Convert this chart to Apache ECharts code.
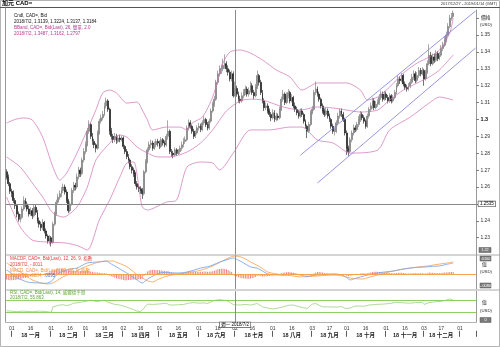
<!DOCTYPE html>
<html><head><meta charset="utf-8">
<script src="https://cdn.jsdelivr.net/npm/echarts/dist/echarts.min.js"></script>
<style>html,body{margin:0;padding:0;background:#fff}#c{width:500px;height:347px}</style>
</head><body><div id="c"></div>
<script>
// ---- categories: trading days (weekdays) of the axis range ----
const rangeStart = [2017, 11, 27], rangeEnd = [2019, 0, 14];
const categories = [];
(function () {
  let t = Date.UTC(rangeStart[0], rangeStart[1], rangeStart[2]);
  const e = Date.UTC(rangeEnd[0], rangeEnd[1], rangeEnd[2]);
  while (t <= e) { const d = new Date(t); const w = d.getUTCDay(); if (w !== 0 && w !== 6) categories.push(d.toISOString().slice(0, 10)); t += 86400000; }
})();

// ---- tick labels ----
const dayTickDates = ['2018-01-01','2018-01-16','2018-02-01','2018-02-16','2018-03-01','2018-03-16','2018-04-02','2018-04-16','2018-05-01','2018-05-16','2018-06-01','2018-06-18','2018-07-02','2018-07-16','2018-08-01','2018-08-16','2018-09-03','2018-09-17','2018-10-01','2018-10-16','2018-11-01','2018-11-16','2018-12-03','2018-12-17','2019-01-01'];
const monthStarts = ['2018-01-01','2018-02-01','2018-03-01','2018-04-02','2018-05-01','2018-06-01','2018-07-02','2018-08-01','2018-09-03','2018-10-01','2018-11-01','2018-12-03','2019-01-01'];
const monthLabels = ['18 一月','18 二月','18 三月','18 四月','18 五月','18 六月','18 七月','18 八月','18 九月','18 十月','18 十一月','18 十二月'];

// ---- candles: [open, close, low, high] ----
const ohlc = [
[1.2690,1.2660,1.2645,1.2705],[1.2660,1.2620,1.2605,1.2675],[1.2620,1.2575,1.2560,1.2630],[1.2575,1.2565,1.2540,1.2590],[1.2565,1.2520,1.2505,1.2580],
[1.2520,1.2490,1.2470,1.2535],[1.2490,1.2440,1.2420,1.2500],[1.2440,1.2410,1.2395,1.2455],[1.2410,1.2420,1.2390,1.2440],[1.2420,1.2470,1.2410,1.2485],
[1.2470,1.2520,1.2460,1.2545],[1.2520,1.2500,1.2480,1.2535],[1.2500,1.2470,1.2455,1.2515],[1.2470,1.2440,1.2425,1.2490],[1.2440,1.2460,1.2430,1.2480],
[1.2460,1.2430,1.2410,1.2475],[1.2430,1.2480,1.2420,1.2500],[1.2480,1.2450,1.2435,1.2495],[1.2450,1.2400,1.2385,1.2465],[1.2400,1.2380,1.2360,1.2420],
[1.2380,1.2360,1.2340,1.2395],[1.2360,1.2390,1.2345,1.2410],[1.2390,1.2340,1.2325,1.2400],[1.2340,1.2310,1.2295,1.2355],[1.2310,1.2280,1.2265,1.2320],
[1.2280,1.2300,1.2260,1.2315],[1.2300,1.2270,1.2248,1.2310],[1.2270,1.2380,1.2265,1.2395],[1.2380,1.2440,1.2370,1.2455],[1.2440,1.2510,1.2430,1.2525],
[1.2510,1.2540,1.2495,1.2560],[1.2540,1.2560,1.2525,1.2580],[1.2560,1.2580,1.2540,1.2600],[1.2580,1.2600,1.2565,1.2620],[1.2600,1.2570,1.2555,1.2615],
[1.2570,1.2520,1.2505,1.2585],[1.2520,1.2460,1.2445,1.2530],[1.2460,1.2500,1.2450,1.2515],[1.2500,1.2580,1.2490,1.2595],[1.2580,1.2610,1.2565,1.2630],
[1.2610,1.2600,1.2580,1.2625],[1.2600,1.2660,1.2590,1.2680],[1.2660,1.2700,1.2645,1.2720],[1.2700,1.2680,1.2660,1.2715],[1.2680,1.2760,1.2670,1.2775],
[1.2760,1.2810,1.2745,1.2830],[1.2810,1.2850,1.2795,1.2870],[1.2850,1.2930,1.2840,1.2950],[1.2930,1.2970,1.2915,1.2995],[1.2970,1.2900,1.2885,1.2980],
[1.2900,1.2870,1.2850,1.2920],[1.2870,1.2850,1.2830,1.2885],[1.2850,1.2830,1.2805,1.2860],[1.2830,1.2920,1.2820,1.2935],[1.2920,1.2990,1.2910,1.3005],
[1.2990,1.3010,1.2975,1.3030],[1.3010,1.3030,1.2995,1.3050],[1.3030,1.3080,1.3020,1.3100],[1.3080,1.3110,1.3065,1.3130],[1.3110,1.3060,1.3045,1.3120],
[1.3060,1.2930,1.2910,1.3070],[1.2930,1.2900,1.2880,1.2950],[1.2900,1.2880,1.2860,1.2915],[1.2880,1.2900,1.2865,1.2920],[1.2900,1.2870,1.2855,1.2915],
[1.2870,1.2890,1.2860,1.2905],[1.2890,1.2880,1.2865,1.2910],[1.2880,1.2890,1.2870,1.2905],[1.2890,1.2840,1.2825,1.2900],[1.2840,1.2810,1.2795,1.2850],
[1.2810,1.2780,1.2765,1.2825],[1.2780,1.2760,1.2740,1.2795],[1.2760,1.2720,1.2705,1.2770],[1.2720,1.2700,1.2680,1.2735],[1.2700,1.2680,1.2660,1.2715],
[1.2680,1.2620,1.2605,1.2690],[1.2620,1.2600,1.2585,1.2635],[1.2600,1.2590,1.2570,1.2615],[1.2590,1.2580,1.2560,1.2605],[1.2580,1.2560,1.2530,1.2595],
[1.2560,1.2690,1.2550,1.2700],[1.2690,1.2750,1.2680,1.2765],[1.2750,1.2820,1.2740,1.2835],[1.2820,1.2850,1.2805,1.2870],[1.2850,1.2860,1.2830,1.2880],
[1.2860,1.2830,1.2815,1.2875],[1.2830,1.2850,1.2820,1.2870],[1.2850,1.2870,1.2835,1.2885],[1.2870,1.2860,1.2840,1.2885],[1.2860,1.2840,1.2825,1.2875],
[1.2840,1.2880,1.2830,1.2895],[1.2880,1.2860,1.2845,1.2890],[1.2860,1.2850,1.2835,1.2875],[1.2850,1.2900,1.2840,1.2915],[1.2900,1.2930,1.2880,1.2995],
[1.2930,1.2810,1.2795,1.2940],[1.2810,1.2800,1.2780,1.2825],[1.2800,1.2790,1.2770,1.2815],[1.2790,1.2820,1.2780,1.2835],[1.2820,1.2800,1.2785,1.2830],
[1.2800,1.2810,1.2790,1.2825],[1.2810,1.2830,1.2795,1.2845],[1.2830,1.2850,1.2815,1.2870],[1.2850,1.2870,1.2835,1.2890],[1.2870,1.2880,1.2855,1.2900],
[1.2880,1.2950,1.2870,1.2965],[1.2950,1.2980,1.2935,1.3000],[1.2980,1.2960,1.2945,1.2995],[1.2960,1.2930,1.2915,1.2970],[1.2930,1.2900,1.2885,1.2945],
[1.2900,1.2920,1.2890,1.2935],[1.2920,1.2950,1.2910,1.2965],[1.2950,1.2960,1.2935,1.2980],[1.2960,1.2940,1.2925,1.2975],[1.2940,1.2980,1.2930,1.2995],
[1.2980,1.3000,1.2965,1.3020],[1.3000,1.2970,1.2955,1.3010],[1.2970,1.2950,1.2935,1.2985],[1.2950,1.2990,1.2940,1.3005],[1.2990,1.3050,1.2980,1.3065],
[1.3050,1.3090,1.3040,1.3105],[1.3090,1.3120,1.3075,1.3140],[1.3120,1.3220,1.3110,1.3235],[1.3220,1.3270,1.3205,1.3290],[1.3270,1.3300,1.3255,1.3320],
[1.3300,1.3300,1.3270,1.3325],[1.3300,1.3320,1.3285,1.3360],[1.3320,1.3330,1.3300,1.3385],[1.3330,1.3300,1.3280,1.3345],[1.3300,1.3280,1.3260,1.3320],
[1.3280,1.3240,1.3225,1.3295],[1.3240,1.3270,1.3225,1.3290],[1.3270,1.3140,1.3130,1.3285],[1.3139,1.3184,1.3137,1.3224],[1.3184,1.3150,1.3135,1.3200],
[1.3150,1.3120,1.3100,1.3165],[1.3120,1.3110,1.3095,1.3140],[1.3110,1.3140,1.3100,1.3160],[1.3140,1.3160,1.3125,1.3180],[1.3160,1.3180,1.3145,1.3200],
[1.3180,1.3150,1.3135,1.3195],[1.3150,1.3170,1.3135,1.3190],[1.3170,1.3200,1.3160,1.3225],[1.3200,1.3160,1.3145,1.3215],[1.3160,1.3140,1.3120,1.3175],
[1.3140,1.3190,1.3130,1.3210],[1.3190,1.3260,1.3180,1.3290],[1.3260,1.3220,1.3200,1.3270],[1.3220,1.3160,1.3145,1.3235],[1.3160,1.3110,1.3095,1.3175],
[1.3110,1.3070,1.3050,1.3125],[1.3070,1.3080,1.3055,1.3100],[1.3080,1.3050,1.3035,1.3095],[1.3050,1.3030,1.3015,1.3065],[1.3030,1.3010,1.2990,1.3045],
[1.3010,1.3040,1.3000,1.3060],[1.3040,1.3000,1.2985,1.3055],[1.3000,1.3020,1.2990,1.3040],[1.3020,1.3010,1.2995,1.3035],[1.3010,1.3060,1.3000,1.3075],
[1.3060,1.3120,1.3050,1.3135],[1.3120,1.3150,1.3105,1.3175],[1.3150,1.3100,1.3085,1.3160],[1.3100,1.3140,1.3090,1.3160],[1.3140,1.3160,1.3125,1.3180],
[1.3160,1.3110,1.3095,1.3170],[1.3110,1.3130,1.3100,1.3150],[1.3130,1.3080,1.3065,1.3140],[1.3080,1.3060,1.3045,1.3100],[1.3060,1.3040,1.3025,1.3075],
[1.3040,1.3020,1.3005,1.3055],[1.3020,1.3050,1.3010,1.3065],[1.3050,1.3030,1.3015,1.3065],[1.3030,1.2990,1.2975,1.3040],[1.2990,1.2960,1.2945,1.3000],
[1.2960,1.2930,1.2890,1.2970],[1.2930,1.2970,1.2920,1.2985],[1.2970,1.3040,1.2960,1.3055],[1.3040,1.3060,1.3030,1.3080],[1.3060,1.3160,1.3050,1.3175],
[1.3160,1.3180,1.3145,1.3225],[1.3180,1.3150,1.3135,1.3195],[1.3150,1.3120,1.3105,1.3165],[1.3120,1.3080,1.3065,1.3130],[1.3080,1.3050,1.3035,1.3095],
[1.3050,1.3030,1.3015,1.3065],[1.3030,1.3050,1.3020,1.3070],[1.3050,1.3020,1.3005,1.3065],[1.3020,1.3000,1.2985,1.3035],[1.3000,1.2960,1.2945,1.3010],
[1.2960,1.2930,1.2915,1.2975],[1.2930,1.2930,1.2905,1.2950],[1.2930,1.2980,1.2920,1.2995],[1.2980,1.3020,1.2965,1.3040],[1.3020,1.3050,1.3005,1.3065],
[1.3050,1.3030,1.3015,1.3065],[1.3030,1.3000,1.2985,1.3045],[1.3000,1.2920,1.2905,1.3010],[1.2920,1.2830,1.2790,1.2935],[1.2830,1.2810,1.2785,1.2845],
[1.2810,1.2880,1.2800,1.2895],[1.2880,1.2920,1.2865,1.2935],[1.2920,1.2950,1.2905,1.2970],[1.2950,1.2940,1.2925,1.2965],[1.2940,1.2970,1.2930,1.2985],
[1.2970,1.3000,1.2955,1.3020],[1.3000,1.3030,1.2985,1.3050],[1.3030,1.3010,1.2995,1.3045],[1.3010,1.2990,1.2975,1.3025],[1.2990,1.2960,1.2945,1.3000],
[1.2960,1.3020,1.2950,1.3035],[1.3020,1.3060,1.3005,1.3075],[1.3060,1.3080,1.3045,1.3100],[1.3080,1.3110,1.3065,1.3130],[1.3110,1.3070,1.3055,1.3125],
[1.3070,1.3090,1.3060,1.3110],[1.3090,1.3100,1.3075,1.3120],[1.3100,1.3130,1.3085,1.3150],[1.3130,1.3150,1.3115,1.3170],[1.3150,1.3120,1.3105,1.3165],
[1.3120,1.3150,1.3110,1.3170],[1.3150,1.3130,1.3115,1.3165],[1.3130,1.3110,1.3095,1.3145],[1.3110,1.3140,1.3100,1.3155],[1.3140,1.3110,1.3095,1.3150],
[1.3110,1.3130,1.3100,1.3145],[1.3130,1.3160,1.3120,1.3175],[1.3160,1.3200,1.3150,1.3215],[1.3200,1.3240,1.3190,1.3260],[1.3240,1.3230,1.3210,1.3255],
[1.3230,1.3260,1.3220,1.3275],[1.3260,1.3210,1.3195,1.3270],[1.3210,1.3190,1.3175,1.3225],[1.3190,1.3180,1.3165,1.3205],[1.3180,1.3200,1.3170,1.3215],
[1.3200,1.3220,1.3185,1.3240],[1.3220,1.3250,1.3210,1.3270],[1.3250,1.3270,1.3235,1.3290],[1.3270,1.3230,1.3215,1.3285],[1.3230,1.3260,1.3220,1.3280],
[1.3260,1.3290,1.3245,1.3310],[1.3290,1.3270,1.3255,1.3305],[1.3270,1.3290,1.3260,1.3310],[1.3290,1.3240,1.3200,1.3300],[1.3240,1.3280,1.3230,1.3295],
[1.3280,1.3330,1.3270,1.3350],[1.3330,1.3380,1.3320,1.3445],[1.3380,1.3330,1.3315,1.3400],[1.3330,1.3370,1.3320,1.3390],[1.3370,1.3350,1.3335,1.3390],
[1.3350,1.3390,1.3340,1.3410],[1.3390,1.3360,1.3345,1.3405],[1.3360,1.3380,1.3350,1.3400],[1.3380,1.3420,1.3370,1.3440],[1.3420,1.3440,1.3405,1.3460],
[1.3440,1.3470,1.3430,1.3490],[1.3470,1.3500,1.3455,1.3520],[1.3500,1.3550,1.3490,1.3570],[1.3550,1.3600,1.3540,1.3620],[1.3600,1.3610,1.3585,1.3630],
[1.3610,1.3630,1.3595,1.3645]
];

// ---- Bollinger bands (26, 2.0), read at sample days: [dayIndex, value] ----
const bbUpper = [[0,1.2979],[5,1.3000],[10,1.3009],[15,1.2997],[21,1.2896],[27,1.2718],[31,1.2641],[35,1.2683],[41,1.2801],[47,1.2938],[52,1.3056],[56,1.3157],[60,1.3174],[64,1.3157],[70,1.3097],[76,1.3103],[79,1.3056],[82,1.2997],[85,1.2938],[93,1.2955],[101,1.2955],[105,1.2938],[108,1.2979],[114,1.3014],[120,1.3133],[126,1.3334],[130,1.3399],[136,1.3411],[142,1.3393],[149,1.3352],[157,1.3293],[165,1.3251],[172,1.3174],[181,1.3216],[190,1.3216],[198,1.3216],[206,1.3174],[210,1.3115],[216,1.3133],[223,1.3192],[231,1.3275],[239,1.3334],[246,1.3370],[252,1.3411],[258,1.3512],[260,1.3600]];
const bbMid = [[0,1.2778],[8,1.2718],[15,1.2624],[21,1.2541],[27,1.2446],[33,1.2422],[41,1.2482],[47,1.2600],[52,1.2760],[58,1.2837],[66,1.2908],[70,1.2896],[76,1.2837],[82,1.2801],[88,1.2778],[95,1.2778],[105,1.2807],[113,1.2861],[120,1.2938],[128,1.3050],[136,1.3110],[142,1.3120],[149,1.3115],[161,1.3074],[171,1.3056],[181,1.3074],[190,1.3068],[198,1.3056],[206,1.3044],[216,1.3056],[223,1.3115],[231,1.3174],[239,1.3216],[246,1.3251],[252,1.3293],[260,1.3382]];
const bbLower = [[0,1.2541],[8,1.2363],[15,1.2286],[25,1.2274],[35,1.2268],[42,1.2250],[47,1.2227],[54,1.2405],[60,1.2523],[66,1.2660],[70,1.2742],[74,1.2748],[77,1.2600],[79,1.2482],[82,1.2464],[93,1.2511],[99,1.2523],[105,1.2718],[113,1.2748],[120,1.2742],[124,1.2701],[132,1.2801],[142,1.2938],[153,1.2938],[165,1.2955],[172,1.2955],[181,1.2878],[190,1.2861],[200,1.2801],[216,1.2819],[223,1.2938],[235,1.3014],[246,1.3097],[252,1.3133],[260,1.3115]];

// ---- trend lines: [startIndex, startPrice, endIndex, endPrice] ----
const trendLines = [[171,1.2788,273,1.3642],[181,1.2624,273,1.3423]];

// ---- crosshair ----
const crossIndex = 133, crossPrice = 1.2535;

// ---- MACD (12,26,9) ----
const macdPts = [[0,0.0021],[3,0.0002],[6,-0.0022],[9,-0.0032],[12,-0.0043],[16,-0.0047],[19,-0.0048],[22,-0.0050],[24,-0.0048],[26,-0.0040],[29,-0.0006],[32,0.0012],[35,0.0021],[38,0.0026],[41,0.0031],[44,0.0045],[47,0.0058],[50,0.0061],[53,0.0063],[56,0.0066],[58,0.0068],[61,0.0052],[64,0.0037],[67,0.0020],[70,0.0005],[73,-0.0014],[76,-0.0032],[79,-0.0048],[81,-0.0035],[83,-0.0022],[86,-0.0008],[89,0.0005],[93,0.0008],[97,0.0005],[101,0.0005],[105,0.0010],[109,0.0020],[113,0.0031],[117,0.0038],[120,0.0047],[124,0.0062],[128,0.0074],[132,0.0084],[135,0.0072],[138,0.0058],[142,0.0037],[146,0.0030],[149,0.0015],[152,0.0000],[156,-0.0005],[161,-0.0006],[166,0.0000],[171,-0.0006],[175,-0.0014],[178,-0.0008],[181,-0.0006],[185,-0.0003],[190,0.0000],[195,-0.0005],[198,-0.0020],[200,-0.0032],[203,-0.0024],[206,-0.0016],[211,-0.0004],[216,0.0005],[220,0.0010],[225,0.0015],[230,0.0024],[235,0.0031],[240,0.0035],[245,0.0037],[248,0.0040],[252,0.0042],[256,0.0050],[260,0.0058]];
const signalPts = [[0,0.0058],[4,0.0035],[8,0.0010],[12,-0.0015],[15,-0.0032],[19,-0.0045],[24,-0.0053],[27,-0.0048],[29,-0.0038],[33,-0.0015],[37,0.0000],[42,0.0022],[47,0.0042],[51,0.0055],[54,0.0063],[58,0.0068],[62,0.0068],[65,0.0058],[68,0.0047],[71,0.0032],[74,0.0010],[77,-0.0010],[81,-0.0032],[85,-0.0043],[88,-0.0030],[92,-0.0016],[96,-0.0006],[101,0.0000],[106,0.0008],[111,0.0015],[116,0.0028],[120,0.0042],[124,0.0060],[128,0.0079],[133,0.0095],[138,0.0084],[142,0.0063],[147,0.0040],[152,0.0010],[156,0.0002],[161,-0.0006],[166,-0.0010],[171,-0.0016],[176,-0.0014],[181,-0.0011],[186,-0.0008],[190,-0.0006],[195,-0.0010],[200,-0.0022],[204,-0.0026],[207,-0.0027],[211,-0.0018],[216,-0.0006],[220,0.0004],[225,0.0015],[230,0.0024],[235,0.0031],[240,0.0037],[245,0.0042],[252,0.0052],[256,0.0057],[260,0.0063]];
const macdHist = [
-0.0030,-0.0032,-0.0034,-0.0034,-0.0033,-0.0032,-0.0030,-0.0028,-0.0026,-0.0024,
-0.0022,-0.0020,-0.0018,-0.0015,-0.0012,-0.0010,-0.0008,-0.0006,-0.0005,-0.0003,
-0.0002,0.0000,0.0002,0.0003,0.0005,0.0008,0.0012,0.0016,0.0020,0.0024,
0.0028,0.0030,0.0029,0.0027,0.0024,0.0022,0.0020,0.0018,0.0017,0.0016,
0.0015,0.0014,0.0014,0.0015,0.0016,0.0017,0.0017,0.0016,0.0015,0.0013,
0.0011,0.0009,0.0008,0.0007,0.0006,0.0005,0.0004,0.0003,0.0002,0.0000,
-0.0008,-0.0012,-0.0016,-0.0020,-0.0024,-0.0026,-0.0028,-0.0030,-0.0033,-0.0035,
-0.0034,-0.0033,-0.0032,-0.0031,-0.0030,-0.0030,-0.0030,-0.0029,-0.0028,-0.0026,
-0.0010,0.0002,0.0012,0.0018,0.0020,0.0022,0.0022,0.0021,0.0020,0.0019,
0.0018,0.0016,0.0015,0.0014,0.0015,0.0010,0.0008,0.0006,0.0005,0.0004,
0.0004,0.0005,0.0006,0.0007,0.0008,0.0010,0.0012,0.0012,0.0011,0.0010,
0.0010,0.0010,0.0010,0.0011,0.0011,0.0012,0.0012,0.0011,0.0011,0.0012,
0.0014,0.0016,0.0020,0.0024,0.0026,0.0027,0.0027,0.0026,0.0024,0.0020,
0.0014,0.0010,0.0000,-0.0011,-0.0014,-0.0018,-0.0021,-0.0023,-0.0024,-0.0025,
-0.0026,-0.0026,-0.0025,-0.0022,-0.0020,-0.0016,-0.0010,-0.0010,-0.0012,-0.0014,
-0.0014,-0.0013,-0.0012,-0.0011,-0.0010,-0.0008,-0.0006,-0.0004,-0.0002,0.0000,
0.0003,0.0006,0.0008,0.0009,0.0010,0.0009,0.0008,0.0006,0.0004,0.0002,
0.0000,-0.0002,-0.0003,-0.0005,-0.0007,-0.0008,-0.0007,-0.0004,0.0000,0.0004,
0.0008,0.0010,0.0010,0.0009,0.0007,0.0005,0.0004,0.0002,0.0000,-0.0002,
-0.0004,-0.0005,-0.0004,-0.0003,-0.0002,-0.0002,-0.0003,-0.0006,-0.0010,-0.0012,
-0.0010,-0.0008,-0.0006,-0.0004,-0.0002,0.0000,0.0002,0.0003,0.0003,0.0002,
0.0004,0.0006,0.0008,0.0010,0.0011,0.0011,0.0011,0.0010,0.0010,0.0009,
0.0008,0.0007,0.0006,0.0005,0.0004,0.0004,0.0004,0.0005,0.0006,0.0006,
0.0006,0.0005,0.0003,0.0002,0.0002,0.0002,0.0003,0.0004,0.0003,0.0003,
0.0004,0.0004,0.0004,0.0002,0.0002,0.0004,0.0007,0.0006,0.0006,0.0005,
0.0005,0.0004,0.0004,0.0005,0.0006,0.0007,0.0008,0.0009,0.0010,0.0010,0.0010
];

// ---- RSI (14) ----
const rsiPts = [[0,36],[3,35],[6,33],[9,35],[12,34],[15,33],[19,35],[22,34],[24,33],[26,31],[27,49],[29,52],[31,55],[33,56],[35,53],[37,56],[39,61],[42,63],[45,66],[47,68],[49,71],[51,68],[53,66],[55,69],[57,71],[59,64],[60,58],[63,57],[66,55],[69,50],[72,44],[74,40],[76,35],[78,33],[79,31],[80,45],[82,58],[85,57],[88,58],[90,59],[93,61],[94,64],[95,55],[97,55],[100,56],[103,57],[106,61],[109,63],[112,61],[115,62],[117,60],[119,65],[121,70],[122,74],[124,73],[126,71],[128,70],[130,64],[132,56],[133,56],[136,55],[139,57],[142,55],[146,60],[149,49],[152,45],[155,42],[158,45],[161,49],[164,54],[167,55],[170,50],[173,46],[175,44],[178,58],[180,60],[182,54],[184,49],[188,49],[192,48],[195,50],[197,44],[198,39],[200,45],[202,50],[204,52],[208,51],[211,55],[215,57],[219,58],[223,60],[227,64],[231,62],[235,61],[238,63],[242,64],[243,57],[244,55],[246,63],[250,66],[253,67],[256,71],[258,75],[260,71]];
const rsiLevels = [70, 30];

// ---- texts ----
const titleText = '加元 CAD=';
const rangeText = '2017/12/27 - 2019/01/14 (GMT)';
const legendCndl = ['Cndl, CAD=, Bid', '2018/7/2, 1.3139, 1.3224, 1.3137, 1.3184'];
const legendBB = ['BBand, CAD=, Bid(Last), 26, 簡單, 2.0', '2018/7/2, 1.3487, 1.3162, 1.2797'];
const legendMACDF = ['MACDF, CAD=, Bid(Last), 12, 26, 9, 指數', '2018/7/2, -.0011'];
const legendMACD = ['MACD, CAD=, Bid(Last), 12, 26, 9, 指數', '2018/7/2, .0084,', '.0095'];
const legendRSI = ['RSI, CAD=, Bid(Last), 14, 威爾德平滑', '2018/7/2, 55.863'];

// ---------------------------------------------------------------
const FF = '"Liberation Sans", Arial, "Noto Sans CJK TC", sans-serif';
const idxOf = d => categories.indexOf(d);
const msIdx = monthStarts.map(idxOf);
const monthMid = {};
for (let k = 0; k < monthLabels.length; k++) monthMid[Math.round((msIdx[k] + msIdx[k + 1]) / 2 - 0.5)] = monthLabels[k];
const monthStartSet = new Set(monthStarts);
const dayTickSet = new Set(dayTickDates);

const G = { left: 5.7, width: 470.7 };
const gray = '#8a8a8a';

function txt(x, y, s, size, color, extra) {
  return Object.assign({ type: 'text', x: x, y: y, z: 100, silent: true,
    style: Object.assign({ text: s, fontSize: size, fontFamily: FF, fill: color, verticalAlign: 'middle', align: 'left' }, extra || {}) });
}
function box(x, y, w, h, s) {
  return { type: 'group', z: 100, silent: true, children: [
    { type: 'rect', shape: { x: x, y: y, width: w, height: h }, style: { fill: '#7a7a7a', stroke: '#555', lineWidth: 0.5 } },
    { type: 'text', x: x + w / 2, y: y + h / 2, style: { text: s, fontSize: 3.8, fontFamily: FF, fill: '#fff', align: 'center', verticalAlign: 'middle' } }
  ]};
}

const trendMark = trendLines.map(t => [
  { coord: [categories[t[0]], t[1]] },
  { coord: [categories[t[2]], t[3]] }
]);

const option = {
  animation: false,
  backgroundColor: '#fff',
  textStyle: { fontFamily: FF },
  grid: [
    { left: G.left, width: G.width, top: 10, height: 244.6, outerBoundsMode: 'none' },
    { left: G.left, width: G.width, top: 255, height: 34, outerBoundsMode: 'none' },
    { left: G.left, width: G.width, top: 291.3, height: 30.5, outerBoundsMode: 'none' }
  ],
  xAxis: [
    { type: 'category', gridIndex: 0, data: categories, show: false },
    { type: 'category', gridIndex: 1, data: categories, show: false },
    { type: 'category', gridIndex: 2, data: categories,
      axisLine: { show: true, lineStyle: { color: '#b0b0b0', width: 1 } },
      axisTick: { show: false }, splitLine: { show: false },
      axisLabel: { interval: (i, v) => dayTickSet.has(v), formatter: v => v.slice(8), fontSize: 5, color: '#333', margin: 4, fontFamily: FF } },
    { type: 'category', gridIndex: 2, data: categories, position: 'bottom', offset: 9,
      axisLine: { show: false }, splitLine: { show: false },
      axisTick: { show: true, interval: (i, v) => monthStartSet.has(v), length: 6, lineStyle: { color: '#333', width: 0.8 } },
      axisLabel: { interval: (i, v) => (i in monthMid), formatter: (v, i) => monthMid[i] || '', fontSize: 5.5, fontWeight: 'bold', color: '#222', margin: 1.5, fontFamily: FF } }
  ],
  yAxis: [
    { type: 'value', gridIndex: 0, position: 'right', min: 1.22, max: 1.3648, interval: 0.01,
      axisLine: { show: true, lineStyle: { color: '#999', width: 1 } },
      axisTick: { show: true, length: 2.5, lineStyle: { color: '#777' } },
      splitLine: { show: false },
      axisLabel: { margin: 4, fontSize: 5, color: '#333', fontFamily: FF, showMaxLabel: false, showMinLabel: false,
        formatter: v => { const r = Math.round(v * 100) / 100; if (r >= 1.355 || r <= 1.225) return ''; if (Math.abs(r - 1.3) < 1e-9) return '{b|1.3}'; return r.toFixed(2); },
        rich: { b: { fontWeight: 'bold', fontSize: 5.5, color: '#111', fontFamily: FF } } } },
    { type: 'value', gridIndex: 1, position: 'right', min: -0.008, max: 0.010,
      axisLine: { show: true, lineStyle: { color: '#999', width: 1 } }, axisTick: { show: false }, axisLabel: { show: false }, splitLine: { show: false } },
    { type: 'value', gridIndex: 2, position: 'right', min: 0, max: 100,
      axisLine: { show: true, lineStyle: { color: '#999', width: 1 } }, axisTick: { show: false }, axisLabel: { show: false }, splitLine: { show: false } }
  ],
  series: [
    { type: 'candlestick', xAxisIndex: 0, yAxisIndex: 0, data: ohlc, barWidth: 1.4,
      itemStyle: { color: '#8f8f8f', color0: '#111', borderColor: '#6e6e6e', borderColor0: '#111', borderWidth: 0.6 },
      markLine: { silent: true, symbol: 'none', animation: false, label: { show: false },
        data: [
          { yAxis: crossPrice, lineStyle: { color: gray, width: 1, type: 'solid' },
            label: { show: true, position: 'end', distance: 2, formatter: crossPrice.toFixed(4), fontSize: 4.5, color: '#000', fontFamily: FF,
              backgroundColor: '#fff', borderColor: '#444', borderWidth: 0.6, padding: [0.5, 1.5, 0, 1.5] } },
          { xAxis: categories[crossIndex], lineStyle: { color: gray, width: 1, type: 'solid' } }
        ].concat(trendMark.map(m => [Object.assign({ lineStyle: { color: '#7b7be0', width: 0.8, type: 'solid' } }, m[0]), m[1]])) } },
    { type: 'line', xAxisIndex: 0, yAxisIndex: 0, data: bbUpper, symbol: 'none', smooth: 0.25, lineStyle: { color: '#cf70b4', width: 0.7 } },
    { type: 'line', xAxisIndex: 0, yAxisIndex: 0, data: bbMid, symbol: 'none', smooth: 0.25, lineStyle: { color: '#cf70b4', width: 0.7 } },
    { type: 'line', xAxisIndex: 0, yAxisIndex: 0, data: bbLower, symbol: 'none', smooth: 0.25, lineStyle: { color: '#cf70b4', width: 0.7 } },

    { type: 'bar', xAxisIndex: 1, yAxisIndex: 1, data: macdHist, barWidth: 0.8, itemStyle: { color: '#f08585' },
      markLine: { silent: true, symbol: 'none', animation: false, label: { show: false },
        data: [
          { yAxis: 0, lineStyle: { color: '#f7a24c', width: 1, type: 'solid' } },
          { xAxis: categories[crossIndex], lineStyle: { color: gray, width: 1, type: 'solid' } }
        ] } },
    { type: 'line', xAxisIndex: 1, yAxisIndex: 1, data: signalPts, symbol: 'none', smooth: 0.3, lineStyle: { color: '#f7a860', width: 0.9 } },
    { type: 'line', xAxisIndex: 1, yAxisIndex: 1, data: macdPts, symbol: 'none', smooth: 0.3, lineStyle: { color: '#7fa8ec', width: 0.9 } },

    { type: 'line', xAxisIndex: 2, yAxisIndex: 2, data: rsiPts, symbol: 'none', lineStyle: { color: '#9bd27c', width: 0.8 },
      markLine: { silent: true, symbol: 'none', animation: false, label: { show: false },
        data: rsiLevels.map(l => ({ yAxis: l, lineStyle: { color: '#8fd063', width: 1, type: 'solid' } })).concat([
          { xAxis: categories[crossIndex], lineStyle: { color: gray, width: 1, type: 'solid' },
            label: { show: true, position: 'start', distance: 0.5, formatter: '週一 2018/7/2', fontSize: 4.5, color: '#000', fontFamily: FF,
              backgroundColor: '#fff', borderColor: '#444', borderWidth: 0.6, padding: [0.5, 1.5, 0, 1.5] } }
        ]) } }
  ],
  graphic: [
    { type: 'rect', z: 90, silent: true, shape: { x: 0.5, y: 0.5, width: 499, height: 346 }, style: { fill: 'none', stroke: '#b5b5b5', lineWidth: 1 } },
    { type: 'line', z: 90, silent: true, shape: { x1: 0, y1: 7.5, x2: 500, y2: 7.5 }, style: { stroke: '#555', lineWidth: 1 } },
    { type: 'line', z: 90, silent: true, shape: { x1: 5.5, y1: 7.5, x2: 5.5, y2: 322 }, style: { stroke: '#999', lineWidth: 1 } },
    { type: 'line', z: 90, silent: true, shape: { x1: 5.5, y1: 255, x2: 500, y2: 255 }, style: { stroke: '#aaa', lineWidth: 1 } },
    { type: 'line', z: 90, silent: true, shape: { x1: 5.5, y1: 290, x2: 500, y2: 290 }, style: { stroke: '#aaa', lineWidth: 1 } },
    txt(2, 3.6, titleText, 6, '#000', { fontWeight: 'bold' }),
    txt(497, 3.6, rangeText, 4, '#333', { align: 'right' }),
    txt(14, 15.7, legendCndl[0], 4.5, '#111'),
    txt(14, 21.7, legendCndl[1], 4.5, '#111'),
    txt(14, 28.2, legendBB[0], 4.5, '#b03a92'),
    txt(14, 34, legendBB[1], 4.5, '#b03a92'),
    txt(481, 18, '價格', 4.8, '#222'),
    txt(480, 24.5, '(USD)', 4.3, '#222'),
    box(479, 247.5, 12, 5, '1.22'),
    txt(10, 258.3, legendMACDF[0], 4.5, '#e23c3c'),
    txt(10, 264.8, legendMACDF[1], 4.5, '#e23c3c'),
    txt(10, 270.6, legendMACD[0], 4.5, '#f0903c'),
    txt(10, 276.2, legendMACD[1], 4.5, '#f0903c'),
    txt(44, 276.2, legendMACD[2], 4.5, '#3c78d8'),
    box(480, 256, 11, 5, '.0100'),
    txt(482, 265, '值', 4.8, '#222'),
    txt(480, 272, '(USD)', 4.3, '#222'),
    box(480, 283, 11, 5, '-.0080'),
    txt(10, 292.6, legendRSI[0], 4.5, '#5aa832'),
    txt(10, 297.6, legendRSI[1], 4.5, '#5aa832'),
    txt(482, 303, '值', 4.8, '#222'),
    txt(480, 310.5, '(USD)', 4.3, '#222'),
    box(480, 317.5, 11, 5, '0')
  ]
};

const chart = echarts.init(document.getElementById('c'), null, { renderer: 'canvas', width: 500, height: 347 });
chart.setOption(option);
</script>
</body></html>
